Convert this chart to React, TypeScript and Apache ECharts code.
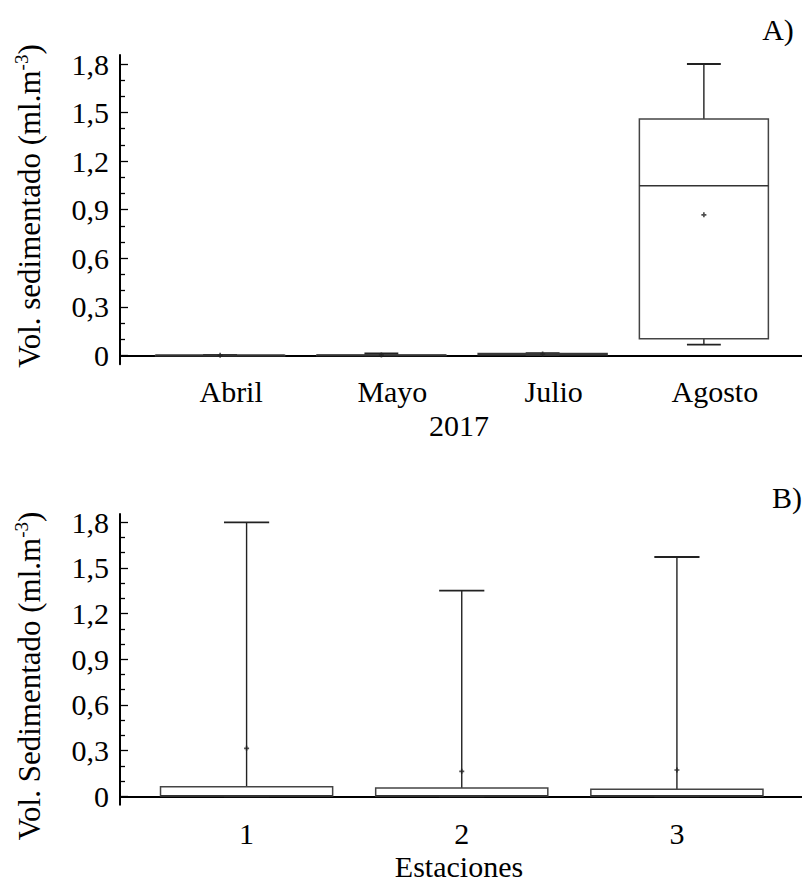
import React, { useEffect, useRef } from "react";
import * as echarts from "echarts";

// ---- Panel A data (2017 months) ----
const monthCategories = ["Abril", "Mayo", "Julio", "Agosto"];
const monthMin = [0, 0, 0.002, 0.066];
const monthQ1 = [0, 0, 0.004, 0.103];
const monthMedian = [0.001, 0.001, 0.008, 1.047];
const monthQ3 = [0.001, 0.002, 0.011, 1.46];
const monthMax = [0.003, 0.011, 0.013, 1.8];
const monthMean = [0, 0.002, 0.008, 0.868];

// ---- Panel B data (stations) ----
const stationCategories = ["1", "2", "3"];
const stationMin = [0, 0, 0];
const stationQ1 = [0.002, 0.002, 0.002];
const stationMedian = [0.003, 0.003, 0.003];
const stationQ3 = [0.063, 0.055, 0.046];
const stationMax = [1.8, 1.351, 1.572];
const stationMean = [0.315, 0.164, 0.173];

const yTickMin = 0;
const yTickMax = 1.8;
const yTickInterval = 0.3;
const yPadLow = 0.055;
const yPadHigh = 0.055;

const FONT = "Liberation Serif";
const FS = 30;

function buildBox(mins: number[], q1: number[], med: number[], q3: number[], max: number[]) {
  return mins.map((m, i) => [i, m, q1[i], med[i], q3[i], max[i]]);
}

const renderBox = (params: any, api: any) => {
  const i = api.value(0);
  const pMin = api.coord([i, api.value(1)]);
  const pQ1 = api.coord([i, api.value(2)]);
  const pMed = api.coord([i, api.value(3)]);
  const pQ3 = api.coord([i, api.value(4)]);
  const pMax = api.coord([i, api.value(5)]);
  const band = api.size([1, 0])[0];
  const bw = band * 0.8;
  const cw = band * 0.21;
  const cx = pMed[0];
  const lineStyle = { stroke: "#222", lineWidth: 1.4 };
  return {
    type: "group",
    children: [
      { type: "line", shape: { x1: cx, y1: pQ3[1], x2: cx, y2: pMax[1] }, style: lineStyle },
      { type: "line", shape: { x1: cx, y1: pQ1[1], x2: cx, y2: pMin[1] }, style: lineStyle },
      { type: "line", shape: { x1: cx - cw / 2, y1: pMax[1], x2: cx + cw / 2, y2: pMax[1] }, style: { stroke: "#222", lineWidth: 1.8 } },
      { type: "line", shape: { x1: cx - cw / 2, y1: pMin[1], x2: cx + cw / 2, y2: pMin[1] }, style: { stroke: "#222", lineWidth: 1.8 } },
      {
        type: "rect",
        shape: { x: cx - bw / 2, y: pQ3[1], width: bw, height: Math.max(pQ1[1] - pQ3[1], 0.5) },
        style: { fill: "#fff", stroke: "#444", lineWidth: 1.5 },
      },
      { type: "line", shape: { x1: cx - bw / 2, y1: pMed[1], x2: cx + bw / 2, y2: pMed[1] }, style: { stroke: "#333", lineWidth: 1.5 } },
    ],
  };
};

const PLUS = "path://M1,0H2V1H3V2H2V3H1V2H0V1H1Z";

function panel(
  idx: number,
  cats: string[],
  box: number[][],
  means: number[],
  yZero: number,
  yTop: number,
  boxLeft: number,
  boxWidth: number,
  labelMargin: number,
  labelShift: number
) {
  const pxPerUnit = (yZero - yTop) / (yTickMax - yTickMin);
  const gTop = yTop - yPadHigh * pxPerUnit;
  const gHeight = (yZero + yPadLow * pxPerUnit) - gTop;
  const yMin = yTickMin - yPadLow;
  const yMax = yTickMax + yPadHigh;
  const base = idx * 3;
  const grids = [
    { left: 120, right: 0, top: gTop, height: gHeight },
    { left: 120, right: 0, top: yTop, height: yZero - yTop },
    { left: boxLeft, width: boxWidth, top: gTop, height: gHeight },
  ];
  const xAxes = [
    {
      type: "value", gridIndex: base, min: 0, max: 1,
      axisLine: { show: true, lineStyle: { color: "#000", width: 2 } },
      axisTick: { show: false }, axisLabel: { show: false }, splitLine: { show: false },
    },
    { type: "value", gridIndex: base + 1, show: false, min: 0, max: 1 },
    {
      type: "category", gridIndex: base + 2, data: cats, boundaryGap: true,
      axisLine: { show: false }, axisTick: { show: false }, splitLine: { show: false },
      axisLabel: {
        fontSize: FS, fontFamily: FONT, color: "#000", margin: labelMargin,
        padding: [0, 0, 0, labelShift * 2],
      },
    },
  ];
  const yAxes = [
    {
      type: "value", gridIndex: base, min: yMin, max: yMax,
      axisLine: { show: true, lineStyle: { color: "#000", width: 2 } },
      axisTick: { show: false }, axisLabel: { show: false }, splitLine: { show: false },
    },
    {
      type: "value", gridIndex: base + 1, min: yTickMin, max: yTickMax, interval: yTickInterval,
      axisLine: { show: false },
      axisTick: { show: true, inside: true, length: 8, lineStyle: { color: "#000", width: 1.3 } },
      minorTick: { show: true, splitNumber: 3, length: 5, lineStyle: { color: "#000", width: 1.3 } },
      splitLine: { show: false }, minorSplitLine: { show: false },
      axisLabel: {
        fontSize: FS, fontFamily: FONT, color: "#000", margin: 11,
        formatter: (v: number) => (v === 0 ? "0" : v.toFixed(1).replace(".", ",")),
      },
    },
    { type: "value", gridIndex: base + 2, min: yMin, max: yMax, show: false },
  ];
  const series = [
    {
      type: "custom", xAxisIndex: base + 2, yAxisIndex: base + 2,
      renderItem: renderBox, data: box, encode: { x: 0, y: [1, 2, 3, 4, 5] }, clip: false, z: 2,
    },
    {
      type: "scatter", xAxisIndex: base + 2, yAxisIndex: base + 2,
      data: means.map((m, i) => [i, m]), symbol: PLUS, symbolSize: 5,
      itemStyle: { color: "#222" }, z: 3,
    },
  ];
  return { grids, xAxes, yAxes, series };
}

export default function App() {
  const ref = useRef<HTMLDivElement>(null);
  useEffect(() => {
    if (!ref.current) return;
    const chart = echarts.init(ref.current, undefined, { renderer: "svg" });
    const a = panel(0, monthCategories, buildBox(monthMin, monthQ1, monthMedian, monthQ3, monthMax), monthMean, 355.3, 64, 139.5, 645, 12, 11);
    const b = panel(1, stationCategories, buildBox(stationMin, stationQ1, stationMedian, stationQ3, stationMax), stationMean, 796.3, 522.3, 139, 645.5, 14, 0);
    const yName = (t: string) => `{n|${t} (ml.m}{s|-3}{n|)}`;
    const rich = {
      n: { fontSize: 31, fontFamily: FONT, color: "#000", lineHeight: 34 },
      s: { fontSize: 19, fontFamily: FONT, color: "#000", verticalAlign: "top", lineHeight: 34 },
    };
    chart.setOption({
      animation: false,
      backgroundColor: "#fff",
      grid: [...a.grids, ...b.grids],
      xAxis: [...a.xAxes, ...b.xAxes],
      yAxis: [...a.yAxes, ...b.yAxes],
      series: [...a.series, ...b.series],
      graphic: [
        { type: "text", x: 459, y: 425, style: { text: "2017", fontSize: FS, fontFamily: FONT, fill: "#000", align: "center", verticalAlign: "middle" } },
        { type: "text", x: 459, y: 866, style: { text: "Estaciones", fontSize: FS, fontFamily: FONT, fill: "#000", align: "center", verticalAlign: "middle" } },
        { type: "text", x: 778, y: 29, style: { text: "A)", fontSize: FS, fontFamily: FONT, fill: "#000", align: "center", verticalAlign: "middle" } },
        { type: "text", x: 787, y: 497, style: { text: "B)", fontSize: FS, fontFamily: FONT, fill: "#000", align: "center", verticalAlign: "middle" } },
        { type: "text", x: 29, y: 206, rotation: Math.PI / 2, style: { text: yName("Vol. sedimentado"), rich, align: "center", verticalAlign: "middle" } },
        { type: "text", x: 29, y: 676, rotation: Math.PI / 2, style: { text: yName("Vol. Sedimentado"), rich, align: "center", verticalAlign: "middle" } },
      ],
    });
    return () => chart.dispose();
  }, []);
  return <div ref={ref} style={{ position: "absolute", left: 0, top: 0, width: 802, height: 882 }} />;
}
